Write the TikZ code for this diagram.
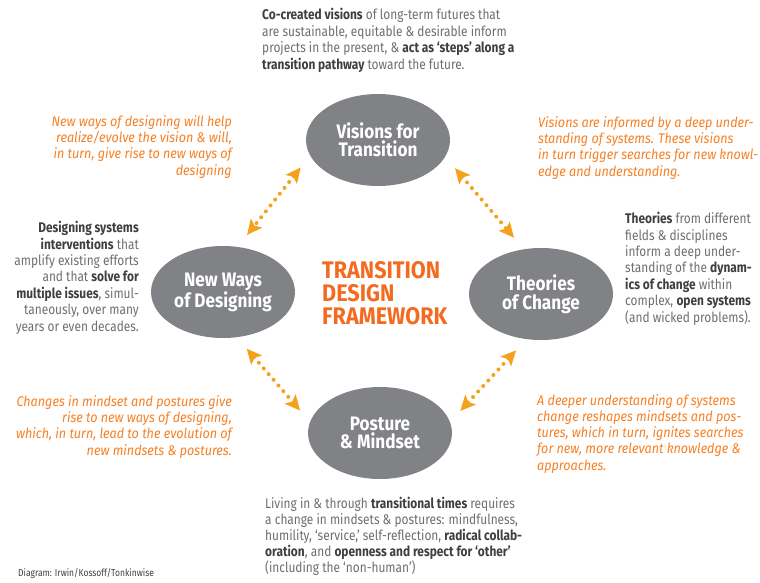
\documentclass[tikz,border=0pt]{standalone}
\usepackage{fontspec}
\setmainfont{Fira Sans}[FakeStretch=0.85]
\newfontfamily\notefont{Fira Sans}[FakeStretch=0.9]
\newfontfamily\labelfont{Fira Sans}[FakeStretch=0.88]
\newfontfamily\titlefont{Fira Sans}[FakeStretch=0.9]
\usetikzlibrary{arrows.meta,shapes.geometric}

\definecolor{ovalgray}{HTML}{808285}
\definecolor{bodygray}{HTML}{6D6E71}
\definecolor{boldgray}{HTML}{3F3F41}
\definecolor{noteorange}{HTML}{F58025}
\definecolor{titleorange}{HTML}{F26B21}
\definecolor{arrowgold}{HTML}{F4A11E}

\newcommand\hl[1]{{\bfseries\color{boldgray}#1}}

\begin{document}
\begin{tikzpicture}[x=1pt,y=-1pt,
  stage/.style={ellipse, fill=ovalgray, minimum width=144pt, minimum height=92pt,
    inner sep=0pt, text=white, align=center,
    font=\labelfont\bfseries\fontsize{19.5}{18.5}\selectfont},
  body/.style={text=bodygray, inner sep=0pt, font=\fontsize{14}{16.4}\selectfont},
  note/.style={text=noteorange, inner sep=0pt, font=\notefont\itshape\fontsize{14}{16.2}\selectfont},
  headline/.style={text=titleorange, inner sep=0pt, align=left,
    font=\titlefont\bfseries\fontsize{24}{23}\selectfont},
  link/.style={arrowgold, line width=4pt, line cap=round, dash pattern=on 0pt off 7.5pt,
    {Stealth[length=15pt,width=14pt,inset=3pt]}-{Stealth[length=15pt,width=14pt,inset=3pt]},
    shorten <=15pt, shorten >=15pt}]

\useasboundingbox (0,0) rectangle (760,582);

% the four stages
\node[stage] (v) at (378,140) {Visions for\\Transition};
\node[stage] (n) at (223,292) {New Ways\\of Designing};
\node[stage] (t) at (541,294) {Theories\\of Change};
\node[stage] (p) at (380,433) {Posture\\\& Mindset};

% framework title (base anchor sits on the last line)
\node[headline, anchor=base west] (title) at (322,324) {TRANSITION\\DESIGN\\FRAMEWORK};

% two-way links between stages
\draw[link] (v.193.5) -- (n.72);
\draw[link] (v.346.3) -- (t.111.5);
\draw[link] (n.287.3) -- (p.171);
\draw[link] (t.252.2) -- (p.9);

% descriptions of each stage
\node[body, anchor=base west, align=left] (vtext) at (262,69)
  {\hl{Co-created visions} of long-term futures that\\
   are sustainable, equitable \& desirable inform\\
   projects in the present, \& \hl{act as ‘steps’ along a}\\
   \hl{transition pathway} toward the future.};

\node[body, anchor=base east, align=right] (ntext) at (139,331)
  {\hl{Designing systems}\\
   \hl{interventions} that\\
   amplify existing efforts\\
   and that \hl{solve for}\\
   \hl{multiple issues}, simul-\\
   taneously, over many\\
   years or even decades.};

\node[body, anchor=base west, align=left] (ttext) at (625,322)
  {\hl{Theories} from different\\
   fields \& disciplines\\
   inform a deep under-\\
   standing of the \hl{dynam-}\\
   \hl{ics of change} within\\
   complex, \hl{open systems}\\
   (and wicked problems).};

\node[body, anchor=base west, align=left,
  font=\fontsize{14}{16}\selectfont] (ptext) at (265,572)
  {Living in \& through \hl{transitional times} requires\\
   a change in mindsets \& postures: mindfulness,\\
   humility, ‘service,’ self-reflection, \hl{radical collab-}\\
   \hl{oration}, and \hl{openness and respect for ‘other’}\\
   (including the ‘non-human’)};

% notes on the links
\node[note, anchor=base east, align=right] (vnnote) at (232,175)
  {New ways of designing will help\\
   realize/evolve the vision \& will,\\
   in turn, give rise to new ways of\\
   designing};

\node[note, anchor=base west, align=left] (vtnote) at (538,176)
  {Visions are informed by a deep under-\\
   standing of systems. These visions\\
   in turn trigger searches for new knowl-\\
   edge and understanding.};

\node[note, anchor=base east, align=right] (npnote) at (232,455)
  {Changes in mindset and postures give\\
   rise to new ways of designing,\\
   which, in turn, lead to the evolution of\\
   new mindsets \& postures.};

\node[note, anchor=base west, align=left] (tpnote) at (537,470)
  {A deeper understanding of systems\\
   change reshapes mindsets and pos-\\
   tures, which in turn, ignites searches\\
   for new, more relevant knowledge \&\\
   approaches.};

% credit line
\node[text=boldgray, inner sep=0pt, anchor=base west, font=\fontsize{10}{12}\selectfont]
  (credit) at (18,576) {Diagram: Irwin/Kossoff/Tonkinwise};
\end{tikzpicture}
\end{document}
